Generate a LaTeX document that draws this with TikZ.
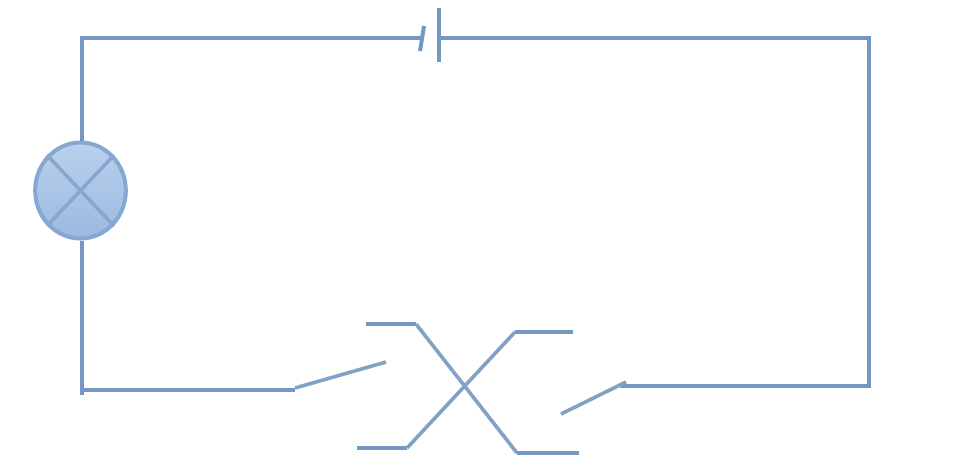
\documentclass[tikz,border=0pt]{standalone}
\usetikzlibrary{shapes.geometric,shapes.misc}
\definecolor{wire}{HTML}{82A1C6}
\definecolor{wiredark}{HTML}{7598C2}
\definecolor{lampedge}{HTML}{86A8D0}
\definecolor{lamptop}{HTML}{BAD0EC}
\definecolor{lampbot}{HTML}{9BBAE0}
\tikzset{
  wireline/.style={draw=wiredark,line width=3pt,line join=miter},
  thinline/.style={draw=wire,line width=2.7pt},
  lampshape/.style={ellipse,draw=lampedge,line width=3pt,top color=lamptop,bottom color=lampbot,
    minimum width=68pt,minimum height=72pt,inner sep=0pt},
}
\begin{document}
\begin{tikzpicture}[x=0.75pt,y=-0.75pt]
\useasboundingbox (0,0) rectangle (966,462);
\fill[white] (0,0) rectangle (966,462);
% junctions
\coordinate (tl) at (82,38);
\coordinate (tr) at (869,38);
\coordinate (br) at (869,386);
\coordinate (bl) at (82,390);
\coordinate (blEnd) at (82,395);
\coordinate (batS) at (421.5,38);
\coordinate (batL) at (439,38);
\coordinate (batSa) at (424,26);
\coordinate (batSb) at (420,51);
\coordinate (batLa) at (439,8);
\coordinate (batLb) at (439,62);
\coordinate (swL) at (295,390);
\coordinate (swLs) at (295,388);
\coordinate (swLe) at (386,362);
\coordinate (swR) at (620,386);
\coordinate (swRs) at (626,382);
\coordinate (swRe) at (561,414);
\coordinate (a1) at (366,324);
\coordinate (a2) at (416,324);
\coordinate (a3) at (517,453);
\coordinate (a4) at (579,453);
\coordinate (b1) at (357,448);
\coordinate (b2) at (407,448);
\coordinate (b3) at (515,332);
\coordinate (b4) at (573,332);
% lamp
\node[lampshape] (lamp) at (80.5,190.5) {};
\draw[thinline,draw=lampedge] (lamp.north west) -- (lamp.south east);
\draw[thinline,draw=lampedge] (lamp.north east) -- (lamp.south west);
% wires
\draw[wireline] (lamp.north -| tl) -- (tl) -- (batS);
\draw[wireline] (batL) -- (tr) -- (br) -- (swR);
\draw[wireline] (lamp.south -| bl) -- (blEnd);
\draw[wireline] (bl) -- (swL);
% battery
\draw[wireline] (batSa) -- (batSb);
\draw[wireline,line width=3.4pt] (batLa) -- (batLb);
% switch blades
\draw[thinline] (swLs) -- (swLe);
\draw[thinline] (swRs) -- (swRe);
% crossing contacts
\draw[wireline] (a1) -- (a2);
\draw[thinline] (a2) -- (a3);
\draw[wireline] (a3) -- (a4);
\draw[wireline] (b1) -- (b2);
\draw[thinline] (b2) -- (b3);
\draw[wireline] (b3) -- (b4);
\end{tikzpicture}
\end{document}
